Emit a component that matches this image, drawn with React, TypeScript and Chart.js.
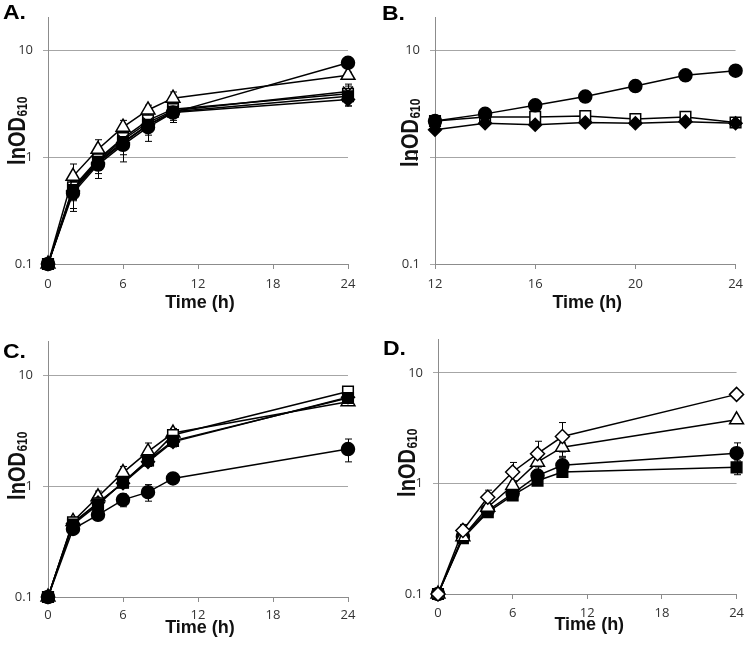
import React, { useEffect, useRef } from "react";
import { Chart, registerables } from "chart.js";

Chart.register(...registerables);

// ---------- shared axes / labels ----------
const TIMES_MAIN = [0, 2, 4, 6, 8, 10, 24];
const TIMES_B = [12, 14, 16, 18, 20, 22, 24];
const X_TICKS_MAIN = [0, 6, 12, 18, 24];
const X_TICKS_B = [12, 16, 20, 24];
const Y_TICKS = [0.1, 1, 10];
const Y_MIN = 0.1;
const Y_MAX = 20;
const X_TITLE = "Time (h)";
const Y_TITLE_MAIN = "lnOD";
const Y_TITLE_SUB = "610";
const PANEL_LETTERS = ["A.", "B.", "C.", "D."];

// ---------- Panel A ----------
const A_CIRCLE = [0.1, 0.46, 0.85, 1.3, 1.9, 2.6, 7.6];
const A_CIRCLE_ERR = [0, 0.15, 0.22, 0.4, 0.5, 0.5, 0.3];
const A_TRIANGLE = [0.1, 0.66, 1.18, 1.9, 2.75, 3.55, 5.8];
const A_TRIANGLE_ERR = [0, 0.2, 0.27, 0.3, 0.3, 0.5, 0.4];
const A_SQUARE_OPEN = [0.1, 0.52, 0.95, 1.5, 2.2, 2.8, 3.9];
const A_SQUARE_OPEN_ERR = [0, 0.12, 0.2, 0.25, 0.4, 0.4, 0.9];
const A_CROSS = [0.1, 0.5, 0.92, 1.45, 2.1, 2.7, 4.1];
const A_CROSS_ERR = [0, 0.1, 0.15, 0.2, 0.3, 0.3, 0.5];
const A_DIAMOND = [0.1, 0.48, 0.88, 1.35, 2.0, 2.6, 3.45];
const A_DIAMOND_ERR = [0, 0.15, 0.18, 0.3, 0.4, 0.4, 0.45];
const A_SQUARE_FILLED = [0.1, 0.49, 0.9, 1.38, 2.0, 2.65, 3.7];
const A_SQUARE_FILLED_ERR = [0, 0.1, 0.12, 0.2, 0.3, 0.3, 0.3];

// ---------- Panel B ----------
const B_CIRCLE = [2.17, 2.53, 3.04, 3.67, 4.6, 5.8, 6.4];
const B_CIRCLE_ERR = [0, 0, 0, 0, 0, 0, 0];
const B_SQUARE_OPEN = [2.17, 2.37, 2.37, 2.42, 2.26, 2.37, 2.1];
const B_SQUARE_OPEN_ERR = [0, 0, 0, 0, 0.08, 0.08, 0.08];
const B_DIAMOND = [1.8, 2.07, 2.0, 2.1, 2.07, 2.14, 2.07];
const B_DIAMOND_ERR = [0, 0.05, 0.05, 0.05, 0.12, 0.1, 0.1];

// ---------- Panel C ----------
const C_CIRCLE = [0.1, 0.41, 0.55, 0.75, 0.88, 1.17, 2.15];
const C_CIRCLE_ERR = [0, 0.02, 0.04, 0.1, 0.15, 0.1, 0.5];
const C_SQUARE_OPEN = [0.1, 0.47, 0.7, 1.07, 1.71, 2.88, 7.1];
const C_SQUARE_OPEN_ERR = [0, 0.03, 0.05, 0.1, 0.2, 0.35, 0.3];
const C_TRIANGLE = [0.1, 0.48, 0.8, 1.32, 2.04, 3.0, 5.75];
const C_TRIANGLE_ERR = [0, 0.03, 0.1, 0.18, 0.4, 0.3, 0.4];
const C_DIAMOND = [0.1, 0.46, 0.71, 1.06, 1.65, 2.5, 6.3];
const C_DIAMOND_ERR = [0, 0.03, 0.05, 0.1, 0.15, 0.25, 0.3];
const C_SQUARE_FILLED = [0.1, 0.45, 0.68, 1.08, 1.7, 2.55, 6.2];
const C_SQUARE_FILLED_ERR = [0, 0.02, 0.05, 0.08, 0.2, 0.2, 0.3];

// ---------- Panel D ----------
const D_DIAMOND_OPEN = [0.1, 0.376, 0.75, 1.27, 1.86, 2.66, 6.4];
const D_DIAMOND_OPEN_ERR = [0, 0.05, 0.12, 0.28, 0.55, 0.9, 0];
const D_TRIANGLE = [0.1, 0.33, 0.61, 0.96, 1.56, 2.13, 3.77];
const D_TRIANGLE_ERR = [0, 0.02, 0.05, 0.1, 0.15, 0.2, 0];
const D_CIRCLE = [0.1, 0.33, 0.57, 0.81, 1.18, 1.46, 1.88];
const D_CIRCLE_ERR = [0, 0.02, 0.04, 0.06, 0.08, 0.25, 0.45];
const D_SQUARE_FILLED = [0.1, 0.32, 0.55, 0.78, 1.06, 1.27, 1.4];
const D_SQUARE_FILLED_ERR = [0, 0.02, 0.03, 0.05, 0.05, 0.1, 0.2];

// ---------- marker styles ----------
type MarkerKey =
  | "circleFilled"
  | "triangleOpen"
  | "squareOpen"
  | "squareFilled"
  | "diamondFilled"
  | "diamondOpen"
  | "cross";

const MARKERS: Record<MarkerKey, { style: string; radius: number; fill: string }> = {
  circleFilled: { style: "circle", radius: 6.5, fill: "#000" },
  triangleOpen: { style: "triangle", radius: 8, fill: "#fff" },
  squareOpen: { style: "rect", radius: 7.5, fill: "#fff" },
  squareFilled: { style: "rect", radius: 7.5, fill: "#000" },
  diamondFilled: { style: "rectRot", radius: 6.5, fill: "#000" },
  diamondOpen: { style: "rectRot", radius: 7, fill: "#fff" },
  cross: { style: "crossRot", radius: 7, fill: "#000" },
};

type Series = {
  values: number[];
  errors: number[];
  marker: MarkerKey;
  firstFill?: string;
};

type PanelSpec = {
  letter: string;
  left: number;
  top: number;
  width: number;
  height: number;
  area: { left: number; right: number; top: number; bottom: number };
  times: number[];
  xMin: number;
  xMax: number;
  xTicks: number[];
  xTickPad: number;
  xTitleY: number;
  yTitleX: number;
  yTitleCY: number;
  letterX: number;
  letterY: number;
  series: Series[];
};

const PANELS: PanelSpec[] = [
  {
    letter: PANEL_LETTERS[0],
    left: 0, top: 0, width: 375, height: 320,
    area: { left: 48, right: 348, top: 8.6, bottom: 264 },
    times: TIMES_MAIN, xMin: 0, xMax: 24, xTicks: X_TICKS_MAIN, xTickPad: 7,
    xTitleY: 308, yTitleX: 25, yTitleCY: 131, letterX: 3, letterY: 19,
    series: [
      { values: A_SQUARE_FILLED, errors: A_SQUARE_FILLED_ERR, marker: "squareFilled" },
      { values: A_CIRCLE, errors: A_CIRCLE_ERR, marker: "circleFilled" },
      { values: A_TRIANGLE, errors: A_TRIANGLE_ERR, marker: "triangleOpen" },
      { values: A_CROSS, errors: A_CROSS_ERR, marker: "cross" },
      { values: A_SQUARE_OPEN, errors: A_SQUARE_OPEN_ERR, marker: "squareOpen" },
      { values: A_DIAMOND, errors: A_DIAMOND_ERR, marker: "diamondFilled" },
    ],
  },
  {
    letter: PANEL_LETTERS[1],
    left: 375, top: 0, width: 375, height: 320,
    area: { left: 60, right: 362, top: 8.6, bottom: 264 },
    times: TIMES_B, xMin: 12, xMax: 24, xTicks: X_TICKS_B, xTickPad: 7,
    xTitleY: 308, yTitleX: 43, yTitleCY: 133, letterX: 7, letterY: 20,
    series: [
      { values: B_CIRCLE, errors: B_CIRCLE_ERR, marker: "circleFilled" },
      { values: B_DIAMOND, errors: B_DIAMOND_ERR, marker: "diamondFilled" },
      { values: B_SQUARE_OPEN, errors: B_SQUARE_OPEN_ERR, marker: "squareOpen", firstFill: "#000" },
    ],
  },
  {
    letter: PANEL_LETTERS[2],
    left: 0, top: 320, width: 375, height: 325,
    area: { left: 48, right: 348, top: 21.6, bottom: 277 },
    times: TIMES_MAIN, xMin: 0, xMax: 24, xTicks: X_TICKS_MAIN, xTickPad: 5,
    xTitleY: 313, yTitleX: 25, yTitleCY: 146, letterX: 3, letterY: 38,
    series: [
      { values: C_SQUARE_FILLED, errors: C_SQUARE_FILLED_ERR, marker: "squareFilled" },
      { values: C_SQUARE_OPEN, errors: C_SQUARE_OPEN_ERR, marker: "squareOpen" },
      { values: C_DIAMOND, errors: C_DIAMOND_ERR, marker: "diamondFilled" },
      { values: C_TRIANGLE, errors: C_TRIANGLE_ERR, marker: "triangleOpen" },
      { values: C_CIRCLE, errors: C_CIRCLE_ERR, marker: "circleFilled" },
    ],
  },
  {
    letter: PANEL_LETTERS[3],
    left: 375, top: 320, width: 375, height: 325,
    area: { left: 63, right: 364, top: 19.7, bottom: 274 },
    times: TIMES_MAIN, xMin: 0, xMax: 24, xTicks: X_TICKS_MAIN, xTickPad: 6,
    xTitleY: 310, yTitleX: 40, yTitleCY: 143, letterX: 8, letterY: 35,
    series: [
      { values: D_DIAMOND_OPEN, errors: D_DIAMOND_OPEN_ERR, marker: "diamondOpen" },
      { values: D_TRIANGLE, errors: D_TRIANGLE_ERR, marker: "triangleOpen" },
      { values: D_CIRCLE, errors: D_CIRCLE_ERR, marker: "circleFilled" },
      { values: D_SQUARE_FILLED, errors: D_SQUARE_FILLED_ERR, marker: "squareFilled" },
    ],
  },
];

const BOLD_FONT = "'Liberation Sans', Arial, sans-serif";
const TICK_FONT = "'Open Sans', sans-serif";

const errorBarPlugin = {
  id: "errorBars",
  beforeDatasetsDraw(chart: any) {
    const ctx = chart.ctx;
    const ys = chart.scales.y;
    ctx.save();
    ctx.strokeStyle = "#000";
    ctx.lineWidth = 1;
    chart.data.datasets.forEach((ds: any, i: number) => {
      const errs: number[] = ds.errors;
      if (!errs) return;
      const meta = chart.getDatasetMeta(i);
      meta.data.forEach((pt: any, j: number) => {
        const e = errs[j];
        if (!e) return;
        const v = ds.data[j].y;
        const x = Math.round(pt.x) + 0.5;
        const yT = ys.getPixelForValue(v + e);
        const yB = ys.getPixelForValue(Math.max(v - e, 0.01));
        ctx.beginPath();
        ctx.moveTo(x, yT);
        ctx.lineTo(x, yB);
        ctx.moveTo(x - 3.5, yT);
        ctx.lineTo(x + 3.5, yT);
        ctx.moveTo(x - 3.5, yB);
        ctx.lineTo(x + 3.5, yB);
        ctx.stroke();
      });
    });
    ctx.restore();
  },
};

function makeTextPlugin(p: PanelSpec) {
  return {
    id: "panelText",
    afterDraw(chart: any) {
      const ctx = chart.ctx;
      const ca = chart.chartArea;
      ctx.save();
      ctx.fillStyle = "#000";
      ctx.textBaseline = "alphabetic";
      ctx.save();
      ctx.font = `bold 20px ${BOLD_FONT}`;
      ctx.textAlign = "left";
      ctx.translate(p.letterX, p.letterY);
      ctx.scale(1.15, 1);
      ctx.fillText(p.letter, 0, 0);
      ctx.restore();
      ctx.font = `bold 18px ${BOLD_FONT}`;
      ctx.textAlign = "center";
      ctx.fillStyle = "#111";
      ctx.fillText(X_TITLE, (ca.left + ca.right) / 2 + 2, p.xTitleY);
      ctx.save();
      ctx.translate(p.yTitleX, p.yTitleCY);
      ctx.rotate(-Math.PI / 2);
      ctx.scale(1, 1.2);
      const mainFont = `bold 20px ${BOLD_FONT}`;
      const subFont = `bold 12px ${BOLD_FONT}`;
      ctx.font = mainFont;
      const w1 = ctx.measureText(Y_TITLE_MAIN).width;
      ctx.font = subFont;
      const w2 = ctx.measureText(Y_TITLE_SUB).width;
      const start = -(w1 + w2) / 2;
      ctx.textAlign = "left";
      ctx.font = mainFont;
      ctx.fillText(Y_TITLE_MAIN, start, 0);
      ctx.font = subFont;
      ctx.fillText(Y_TITLE_SUB, start + w1 + 0.5, 2);
      ctx.restore();
      ctx.restore();
    },
  };
}

function Panel({ spec }: { spec: PanelSpec }) {
  const ref = useRef<HTMLCanvasElement | null>(null);
  useEffect(() => {
    if (!ref.current) return;
    const datasets = spec.series.map((s) => {
      const m = MARKERS[s.marker];
      const bg = s.firstFill
        ? s.values.map((_, i) => (i === 0 ? s.firstFill : m.fill))
        : m.fill;
      return {
        data: spec.times.map((t, i) => ({ x: t, y: s.values[i] })),
        errors: s.errors,
        borderColor: "#000",
        borderWidth: 1.5,
        pointStyle: m.style,
        pointRadius: m.radius,
        pointBackgroundColor: bg,
        pointBorderColor: "#000",
        pointBorderWidth: 1.5,
        tension: 0,
        fill: false,
        clip: false,
      };
    });
    const chart = new Chart(ref.current, {
      type: "line",
      data: { datasets } as any,
      options: {
        animation: false,
        responsive: false,
        maintainAspectRatio: false,
        devicePixelRatio: 1,
        layout: {
          padding: {
            left: 0,
            top: spec.area.top,
            right: spec.width - spec.area.right,
            bottom: 0,
          },
        },
        plugins: {
          legend: { display: false },
          tooltip: { enabled: false },
          title: { display: false },
        },
        scales: {
          x: {
            type: "linear",
            min: spec.xMin,
            max: spec.xMax,
            afterBuildTicks: (scale: any) => {
              scale.ticks = spec.xTicks.map((v) => ({ value: v }));
            },
            afterFit: (scale: any) => {
              scale.height = spec.height - spec.area.bottom;
            },
            ticks: {
              padding: spec.xTickPad,
              color: "#333",
              font: { family: TICK_FONT, size: 13 },
              maxRotation: 0,
              callback: (v: any) => String(v),
            },
            grid: {
              drawOnChartArea: false,
              drawTicks: true,
              tickLength: 5,
              color: "#8c8c8c",
            },
            border: { display: true, color: "#8c8c8c", width: 1 },
          },
          y: {
            type: "logarithmic",
            min: Y_MIN,
            max: Y_MAX,
            afterBuildTicks: (scale: any) => {
              scale.ticks = Y_TICKS.map((v) => ({ value: v }));
            },
            afterFit: (scale: any) => {
              scale.width = spec.area.left;
            },
            ticks: {
              padding: 10,
              color: "#333",
              font: { family: TICK_FONT, size: 13 },
              callback: (v: any) => String(v),
            },
            grid: {
              drawOnChartArea: true,
              drawTicks: true,
              tickLength: 5,
              color: "#a6a6a6",
              lineWidth: 1,
            },
            border: { display: true, color: "#8c8c8c", width: 1 },
          },
        },
      } as any,
      plugins: [errorBarPlugin, makeTextPlugin(spec)],
    });
    return () => chart.destroy();
  }, [spec]);
  return (
    <div
      style={{
        position: "absolute",
        left: spec.left,
        top: spec.top,
        width: spec.width,
        height: spec.height,
      }}
    >
      <canvas ref={ref} width={spec.width} height={spec.height} style={{ display: "block" }} />
    </div>
  );
}

export default function App() {
  return (
    <div
      style={{
        position: "absolute",
        left: 0,
        top: 0,
        width: 750,
        height: 645,
        background: "#fff",
        overflow: "hidden",
      }}
    >
      {PANELS.map((p) => (
        <Panel key={p.letter} spec={p} />
      ))}
    </div>
  );
}
